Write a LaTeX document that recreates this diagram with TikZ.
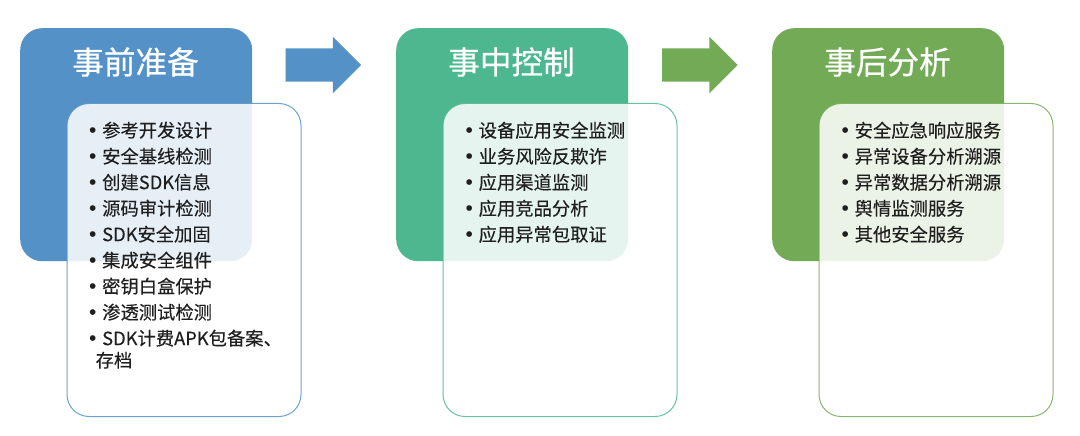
\documentclass[tikz,border=0pt]{standalone}
\usepackage{fontspec}
\setmainfont[FakeBold=0.25]{Noto Sans CJK SC}
\newfontfamily\titlefont[FakeBold=0.6]{Noto Sans CJK SC}
\newfontfamily\bulfont{Liberation Sans}
\usetikzlibrary{shapes.arrows}
\definecolor{cblue}{HTML}{5391C6}
\definecolor{cteal}{HTML}{4DB88F}
\definecolor{cgreen}{HTML}{72AA56}
\newcommand{\bul}{\makebox[11.5pt][l]{\hspace{-1.5pt}\raisebox{-0.5pt}{\fontsize{21}{26}\bulfont •}}}
\tikzset{
  x=1pt,y=-1pt,
  headbox/.style={rounded corners=22pt,minimum width=232pt,minimum height=233pt,inner sep=0pt,anchor=north west},
  listbox/.style={draw=#1,line width=1pt,fill=white,fill opacity=0.86,draw opacity=0.85,rounded corners=22pt,minimum width=234pt,minimum height=313pt,inner sep=0pt,anchor=north west},
  headtitle/.style={text=white,font=\titlefont\fontsize{31.6}{32}\selectfont,inner sep=0pt,anchor=center},
  listtext/.style={text=black!88,font=\fontsize{18.3}{26}\selectfont,inner sep=0pt,anchor=north west,align=left},
  flowarrow/.style={shape=single arrow,fill=#1,single arrow head extend=11.5pt,single arrow tip angle=90,minimum height=75.5pt,inner sep=0pt,anchor=center,single arrow head indent=0pt}
}
\begin{document}
\begin{tikzpicture}
\useasboundingbox[fill=white] (0,0) rectangle (1080,436);
\node[headbox,fill=cblue] (h1) at (20,28) {};
\node[headbox,fill=cteal] (h2) at (396,28) {};
\node[headbox,fill=cgreen] (h3) at (772,28) {};
\node[headtitle] (t1) at (135.5,62) {事前准备};
\node[headtitle] (t2) at (511.5,62) {事中控制};
\node[headtitle] (t3) at (887.5,62) {事后分析};
\node[listbox=cblue] (b1) at (66.5,103) {};
\node[listbox=cteal] (b2) at (442.5,103) {};
\node[listbox=cgreen] (b3) at (818.5,103) {};
\node[flowarrow=cblue] (a1) at (315,65) {\rule{0pt}{33pt}};
\node[flowarrow=cgreen] (a2) at (691.5,65) {\rule{0pt}{33pt}};
\node[listtext] (l1) at (90.5,121.5) {\bul 参考开发设计\\\bul 安全基线检测\\\bul 创建SDK信息\\\bul 源码审计检测\\\bul SDK安全加固\\\bul 集成安全组件\\\bul 密钥白盒保护\\\bul 渗透测试检测\\\bul SDK计费APK包备案、\\[-4pt]\hspace{5pt}存档};
\node[listtext] (l2) at (467,121.5) {\bul 设备应用安全监测\\\bul 业务风险反欺诈\\\bul 应用渠道监测\\\bul 应用竞品分析\\\bul 应用异常包取证};
\node[listtext] (l3) at (843,121.5) {\bul 安全应急响应服务\\\bul 异常设备分析溯源\\\bul 异常数据分析溯源\\\bul 舆情监测服务\\\bul 其他安全服务};
\end{tikzpicture}
\end{document}
